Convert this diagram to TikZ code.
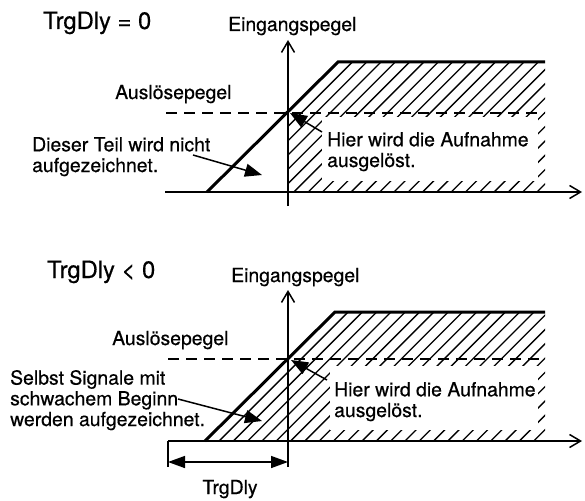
\documentclass[tikz,border=0pt]{standalone}
\usepackage{fontspec}
\setmainfont{TeX Gyre Heros}[FakeBold=0.5]
\usetikzlibrary{arrows.meta}
\begin{document}
\begin{tikzpicture}[x=1pt,y=-1pt,
  lbl/.style={inner sep=0pt, font=\fontsize{19.4}{20.7}\selectfont, align=left},
  ttl/.style={inner sep=0pt, font=\fontsize{23.8}{25}\selectfont},
  axis/.style={line width=1.5pt, -{Straight Barb[length=11pt,width=13pt]}},
  sig/.style={line width=3pt, line join=miter},
  hatch/.style={line width=1.3pt},
  lvl/.style={line width=1.4pt, dash pattern=on 11pt off 7pt},
  callout/.style={line width=1.5pt, -{Triangle[length=17pt,width=13pt]}},
  dim/.style={line width=1.5pt, {Triangle[length=17pt,width=12pt]}-{Triangle[length=17pt,width=12pt]}},
  plain/.style={line width=1.5pt},
]
\useasboundingbox (0,0) rectangle (585,500);

% ================= top diagram =================
\begin{scope}
  \clip (288,192) -- (288,112) -- (338,62) -- (545,62) -- (545,192) -- cycle;
  \foreach \k in {0,...,36} \draw[hatch] ({100+\k*14.3},200) -- ++(170,-170);
\end{scope}
\fill[white] (322,117) rectangle (538,181);

\coordinate (x1s) at (165,192);
\coordinate (x1e) at (582,192);
\coordinate (y1s) at (288,206);
\coordinate (y1e) at (288,40);
\draw[axis] (x1s) -- (x1e);
\draw[axis] (y1s) -- (y1e);

\coordinate (l1s) at (166,113);
\coordinate (l1e) at (545,113);
\draw[lvl] (l1s) -- (l1e);

\coordinate (s1a) at (207,192);
\coordinate (s1b) at (338,62);
\coordinate (s1c) at (545,62);
\draw[sig] (s1a) -- (s1b) -- (s1c);

\node[ttl, anchor=base west] (t1) at (43,29) {TrgDly = 0};
\node[lbl, anchor=base west] (e1) at (228,31) {Eingangspegel};
\node[lbl, anchor=base west] (a1) at (115,99) {Auslösepegel};
\node[lbl, anchor=base west] (d1) at (32,172) {Dieser Teil wird nicht\\aufgezeichnet.};
\node[lbl, anchor=base west] (h1) at (327,167) {Hier wird die Aufnahme\\ausgelöst.};

\coordinate (d1s) at (193,155);
\coordinate (d1t) at (262,175);
\draw[callout] (d1s) -- (d1t);
\coordinate (h1s) at (322,132);
\coordinate (h1t) at (290,113);
\draw[callout] (h1s) -- (h1t);

% ================= bottom diagram =================
\begin{scope}
  \clip (205,441) -- (335,312) -- (545,312) -- (545,441) -- cycle;
  \foreach \k in {0,...,36} \draw[hatch] ({110+\k*14.3},450) -- ++(180,-180);
\end{scope}
\fill[white] (330,366) rectangle (538,430);

\coordinate (x2s) at (168,441);
\coordinate (x2e) at (582,441);
\coordinate (y2s) at (288,467);
\coordinate (y2e) at (288,290);
\draw[axis] (x2s) -- (x2e);
\draw[axis] (y2s) -- (y2e);

\coordinate (l2s) at (168,359);
\coordinate (l2e) at (545,359);
\draw[lvl] (l2s) -- (l2e);

\coordinate (s2a) at (205,441);
\coordinate (s2b) at (335,312);
\coordinate (s2c) at (545,312);
\draw[sig] (s2a) -- (s2b) -- (s2c);

\node[ttl, anchor=base west] (t2) at (47,278) {TrgDly < 0};
\node[lbl, anchor=base west] (e2) at (231,282) {Eingangspegel};
\node[lbl, anchor=base west] (a2) at (112,345) {Auslösepegel};
\node[lbl, anchor=base west] (g2) at (10,426) {Selbst Signale mit\\schwachem Beginn\\werden aufgezeichnet.};
\node[lbl, anchor=base west] (h2) at (334,417) {Hier wird die Aufnahme\\ausgelöst.};

\coordinate (g2s) at (178,399);
\coordinate (g2t) at (262,421);
\draw[callout] (g2s) -- (g2t);
\coordinate (h2s) at (327,380);
\coordinate (h2t) at (291,360);
\draw[callout] (h2s) -- (h2t);

% dimension
\coordinate (dl1) at (168,441);
\coordinate (dl2) at (168,467);
\draw[plain] (dl1) -- (dl2);
\coordinate (da) at (168,462);
\coordinate (db) at (288,462);
\draw[dim] (da) -- (db);
\node[lbl, anchor=base] (tl) at (230,494) {TrgDly};
\end{tikzpicture}
\end{document}
